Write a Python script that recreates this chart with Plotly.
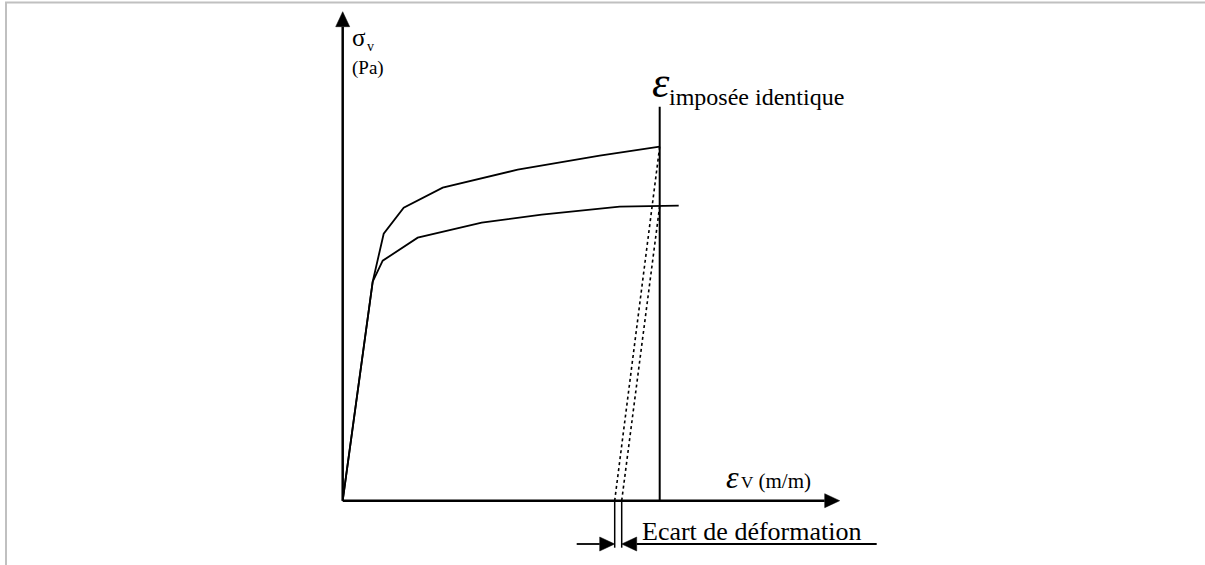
import numpy as np
import plotly.graph_objects as go

# ---- data (arbitrary units: strain, stress) ----
strain_upper = [0.0, 3.0, 4.1, 6.1, 10.0, 17.5, 25.7, 31.7]
stress_upper = [0.0, 21.9, 26.7, 29.3, 31.3, 33.1, 34.5, 35.4]
strain_lower = [0.0, 3.0, 4.0, 7.5, 13.9, 19.9, 27.7, 33.6]
stress_lower = [0.0, 21.9, 24.0, 26.3, 27.8, 28.6, 29.4, 29.5]
eps_imposed = 31.7
eps_residual = [27.2, 27.9]          # after unloading: upper curve, lower curve
imposed_line_top = 39.4
axis_x_end = 49.7
axis_y_end = 48.9
gap_line_bottom = -4.7
gap_arrow_level = -4.33
gap_arrow_tails = [23.4, 53.4]

# ---- styles ----
BLACK = "black"
FONT = "Liberation Serif, Times New Roman, Times, serif"
HEAD_L, HEAD_W = 1.5, 0.7

fig = go.Figure()


def line(xs, ys, width=1.5, dash="solid"):
    fig.add_trace(go.Scatter(x=xs, y=ys, mode="lines",
                             line=dict(color=BLACK, width=width, dash=dash),
                             hoverinfo="skip", showlegend=False))


def arrow(x0, y0, x1, y1, width=2.0):
    d = np.array([x1 - x0, y1 - y0], dtype=float)
    d /= np.linalg.norm(d)
    tip = np.array([x1, y1], dtype=float)
    base = tip - HEAD_L * d
    perp = np.array([-d[1], d[0]])
    line([x0, base[0]], [y0, base[1]], width=width)
    p1 = base + HEAD_W * perp
    p2 = base - HEAD_W * perp
    fig.add_trace(go.Scatter(x=[tip[0], p1[0], p2[0], tip[0]],
                             y=[tip[1], p1[1], p2[1], tip[1]],
                             mode="lines", fill="toself", fillcolor=BLACK,
                             line=dict(color=BLACK, width=0.5),
                             hoverinfo="skip", showlegend=False))


# axes
arrow(0, 0, 0, axis_y_end, width=2.5)
arrow(0, 0, axis_x_end, 0, width=2.5)

# curves
line(strain_upper, stress_upper, width=1.8)
line(strain_lower, stress_lower, width=1.8)

# imposed strain line
line([eps_imposed, eps_imposed], [0, imposed_line_top], width=2)

# unloading (dotted)
stress_up_imp = float(np.interp(eps_imposed, strain_upper, stress_upper))
stress_lo_imp = float(np.interp(eps_imposed, strain_lower, stress_lower))
line([eps_imposed, eps_residual[0]], [stress_up_imp, 0], width=1.6, dash="dot")
line([eps_imposed, eps_residual[1]], [stress_lo_imp, 0], width=1.6, dash="dot")

# residual strain gap markers
for e in eps_residual:
    line([e, e], [0, gap_line_bottom], width=1.5)
arrow(gap_arrow_tails[0], gap_arrow_level, eps_residual[0], gap_arrow_level, width=1.8)
arrow(gap_arrow_tails[1], gap_arrow_level, eps_residual[1], gap_arrow_level, width=1.8)


def label(text, x, y, size, anchor="left", italic=False):
    fig.add_annotation(x=x, y=y, xref="x", yref="y", text=text, showarrow=False,
                       xanchor=anchor, yanchor="middle", borderpad=0, borderwidth=0,
                       font=dict(family=FONT, size=size, color=BLACK,
                                 style="italic" if italic else "normal"))


label("σ", 0.9, 46.3, 25)
label("v", 2.45, 45.4, 14)
label("(Pa)", 0.9, 43.3, 19)
label("ε", 31.8, 41.8, 44, anchor="center", italic=True)
label("imposée identique", 32.6, 40.4, 24)
label("ε", 38.3, 2.4, 32, italic=True)
label("<span style='font-size:17px'>V</span> (m/m)", 39.8, 2.0, 21)
label("Ecart de déformation", 29.9, -3.1, 26)

fig.update_layout(
    width=1205, height=565, autosize=False,
    margin=dict(l=0, r=0, t=0, b=0),
    paper_bgcolor="white", plot_bgcolor="white",
    xaxis=dict(range=[-34.27, 86.23], visible=False, fixedrange=True),
    yaxis=dict(range=[-6.43, 50.07], visible=False, fixedrange=True),
    shapes=[
        dict(type="line", xref="paper", yref="paper", x0=6 / 1205, x1=6 / 1205,
             y0=0, y1=1 - 2.5 / 565, line=dict(color="#c0c0c0", width=2)),
        dict(type="line", xref="paper", yref="paper", x0=5 / 1205, x1=1,
             y0=1 - 2.5 / 565, y1=1 - 2.5 / 565, line=dict(color="#c0c0c0", width=2)),
    ],
)

fig.write_html("out.html", config={"displayModeBar": False},
               post_script="document.body.style.margin='0';")
